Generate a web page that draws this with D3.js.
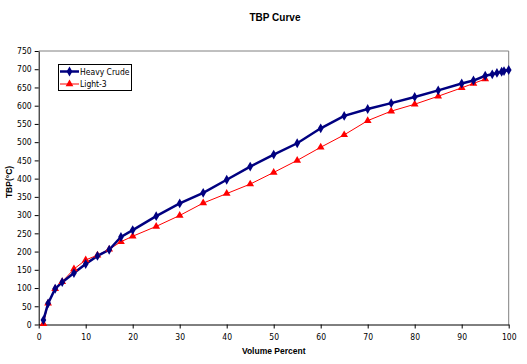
<!DOCTYPE html>
<html><head><meta charset="utf-8">
<script src="https://cdn.jsdelivr.net/npm/d3@7"></script>
<style>body{margin:0;background:#fff;} svg{display:block;}</style>
</head><body>
<svg id="c" width="527" height="364"></svg>
<script>
const heavyX = [1,2,3.5,5,7.5,10,12.5,15,17.5,20,25,30,35,40,45,50,55,60,65,70,75,80,85,90,92.5,95,96.5,97.5,98.5,99,100];
const heavyY = [12,58,98,116,141,166,188,205,240,259,297,332,361,397,433,466,497,538,572,591,607,624,642,661,669,682,686,690,693,695,698];
const lightX = [1,2,3.5,5,7.5,10,12.5,15,17.5,20,25,30,35,40,45,50,55,60,65,70,75,80,85,90,92.5,95];
const lightY = [2,58,98,117,152,177,190,206,227,242,269,299,333,359,385,417,450,486,520,559,585,604,626,649,661,673];
const xTicks = [0,10,20,30,40,50,60,70,80,90,100];
const yTicks = [0,50,100,150,200,250,300,350,400,450,500,550,600,650,700,750];
const seriesNames = ["Heavy Crude","Light-3"];

const svg = d3.select("#c");
const L = 38.7, R = 508.7, T = 51, B = 324.5;
const x = d3.scaleLinear().domain([0,100]).range([L,R]);
const y = d3.scaleLinear().domain([0,750]).range([B,T]);
const font = "Tahoma, 'DejaVu Sans Condensed', 'Liberation Sans', Arial, sans-serif";

// frame
svg.append("line").attr("x1",L).attr("x2",R).attr("y1",T).attr("y2",T).attr("stroke","#808080");
svg.append("line").attr("x1",R).attr("x2",R).attr("y1",T).attr("y2",B).attr("stroke","#808080");

const xa = svg.append("g").attr("transform",`translate(0,${B})`)
  .call(d3.axisBottom(x).tickValues(xTicks).tickSize(4).tickPadding(5).tickSizeOuter(0));
const ya = svg.append("g").attr("transform",`translate(${L},0)`)
  .call(d3.axisLeft(y).tickValues(yTicks).tickSize(4).tickPadding(3).tickSizeOuter(0));
[xa,ya].forEach(a=>{
  a.selectAll("path,line").attr("stroke","#000").attr("stroke-width",1);
  a.selectAll("text").attr("font-family",font).attr("font-size","8.5px").attr("fill","#000");
});

const line = d3.line().x(d=>x(d[0])).y(d=>y(d[1]));
const heavy = heavyX.map((v,i)=>[v,heavyY[i]]);
const light = lightX.map((v,i)=>[v,lightY[i]]);

svg.append("path").datum(light).attr("d",line).attr("fill","none").attr("stroke","#ff0000").attr("stroke-width",1);
svg.append("path").datum(heavy).attr("d",line).attr("fill","none").attr("stroke","#000080").attr("stroke-width",2.5);

const tri = d3.symbol().type(d3.symbolTriangle).size(26);
const dia = d3.symbol().type(d3.symbolDiamond).size(28);
svg.append("g").selectAll("path").data(light).join("path")
  .attr("d",tri).attr("transform",d=>`translate(${x(d[0])},${y(d[1])})`).attr("fill","#ff0000");
svg.append("g").selectAll("path").data(heavy).join("path")
  .attr("d",dia).attr("transform",d=>`translate(${x(d[0])},${y(d[1])})`).attr("fill","#000080");

// titles
svg.append("text").attr("x",275).attr("y",21).attr("text-anchor","middle")
  .attr("font-family","Arial, 'Liberation Sans', sans-serif").attr("font-weight","bold").attr("font-size","10px").text("TBP Curve");
svg.append("text").attr("x",(L+R)/2).attr("y",354).attr("text-anchor","middle")
  .attr("font-family","Arial, 'Liberation Sans', sans-serif").attr("font-weight","bold").attr("font-size","8.5px").text("Volume Percent");
svg.append("text").attr("transform","translate(12,182) rotate(-90)").attr("text-anchor","middle")
  .attr("font-family","Arial, 'Liberation Sans', sans-serif").attr("font-weight","bold").attr("font-size","8.5px").text("TBP(°C)");

// legend
const lg = svg.append("g");
lg.append("rect").attr("x",58.5).attr("y",64.5).attr("width",73).attr("height",26).attr("fill","#fff").attr("stroke","#000").attr("stroke-width",1);
const ly = [71.5,84];
lg.append("line").attr("x1",60).attr("x2",79).attr("y1",ly[0]).attr("y2",ly[0]).attr("stroke","#000080").attr("stroke-width",2.5);
lg.append("path").attr("d",dia).attr("transform",`translate(69.5,${ly[0]})`).attr("fill","#000080");
lg.append("line").attr("x1",60).attr("x2",79).attr("y1",ly[1]).attr("y2",ly[1]).attr("stroke","#ff0000").attr("stroke-width",1);
lg.append("path").attr("d",tri).attr("transform",`translate(69.5,${ly[1]})`).attr("fill","#ff0000");
seriesNames.forEach((n,i)=>{
  lg.append("text").attr("x",80).attr("y",ly[i]+3).attr("font-family",font).attr("font-size","8.5px").text(n);
});
</script>
</body></html>
